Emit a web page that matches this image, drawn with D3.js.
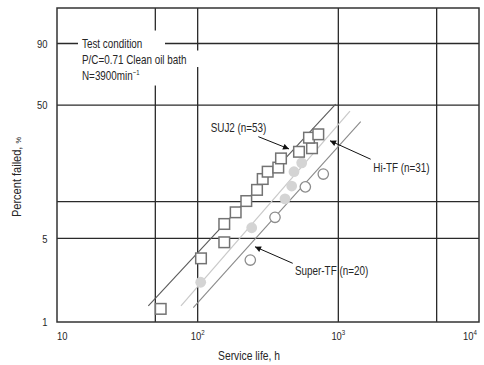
<!DOCTYPE html>
<html><head><meta charset="utf-8">
<script src="https://cdn.jsdelivr.net/npm/d3@7"></script>
<style>
html,body{margin:0;padding:0;background:#fff;}
svg text{font-family:"Liberation Sans",Arial,sans-serif;fill:#262626;}
</style></head>
<body><svg id="c" width="484" height="365"></svg>
<script>
// ---- data ----
const suj2Life = [54.6,105.6,154.6,154.6,186.3,221.7,264.2,290,314.6,374.3,391.2,525.3,649.9,618.6,720.4];
const suj2Pct  = [1.29,3.42,4.65,6.58,8.19,10.1,12.4,15.1,17.2,18.5,21.7,24.3,25.8,30.7,32.4];
const hiLife = [105.1,242.2,417.7,466.1,484,549];
const hiPct  = [2.16,6.13,10.5,13.3,17.2,20.1];
const superLife = [236.7,354.6,582.6,781.7];
const superPct  = [3.31,7.46,13.1,16.5];
// fitted lines: [life, percent] end points
const suj2Fit  = [[44.6,1.37],[957.7,50.7]];
const hiFit    = [[76.1,1.37],[1210,46.0]];
const superFit = [[93.1,1.32],[1442,39.4]];
const xGrid = [50,100,1000,5000];
const xTicks = [10,100,1000,10000];
const xTickLabels = [["10",""],["10","2"],["10","3"],["10","4"]];
const yGrid = [5,10,50,90];
const yTicks = [1,5,50,90];
const seriesLabels = ["SUJ2 (n=53)","Hi-TF (n=31)","Super-TF (n=20)"];
// label anchor [life, pct], arrow from [life,pct] to [life,pct]
const labelPos = [[123.8,35.9],[1773,18.6],[492,2.73]];
const arrowFrom = [[270,31.2],[1698,21.4],[474,3.11]];
const arrowTo = [[446,25.5],[872.5,29.2],[255.6,4.27]];
const condText = ["Test condition","P/C=0.71 Clean oil bath","N=3900min"];

// ---- scales ----
const W = p => Math.log(-Math.log(1 - p/100));
const x = d3.scaleLog().domain([10,10000]).range([57,479]);
const y = d3.scaleLinear().domain([W(1),W(99)]).range([322,8]);
const Y = p => y(W(p));

// condensed text helper: moves x/y into a transform and squeezes horizontally
function condense(sel, k, extra) {
  sel.each(function(){
    const t = d3.select(this);
    const tx = +t.attr("x") || 0, ty = +t.attr("y") || 0;
    t.attr("x",0).attr("y",0)
     .attr("transform",`translate(${tx},${ty})${extra||""} scale(${k},1)`);
  });
}

const svg = d3.select("#c");
svg.append("defs").append("marker").attr("id","ah")
  .attr("viewBox","0 0 10 10").attr("refX",10).attr("refY",5)
  .attr("markerWidth",7).attr("markerHeight",6).attr("markerUnits","userSpaceOnUse")
  .attr("orient","auto")
  .append("path").attr("d","M0,0L10,5L0,10z").attr("fill","#111");

const g = svg.append("g");
// grid
g.selectAll(".vg").data(xGrid).join("line")
  .attr("x1",d=>x(d)).attr("x2",d=>x(d)).attr("y1",y.range()[1]).attr("y2",y.range()[0])
  .attr("stroke","#2a2a2a").attr("stroke-width",1.3);
g.selectAll(".hg").data(yGrid).join("line")
  .attr("y1",d=>Y(d)).attr("y2",d=>Y(d)).attr("x1",x.range()[0]).attr("x2",x.range()[1])
  .attr("stroke","#2a2a2a").attr("stroke-width",1.3);
// frame
g.append("rect").attr("x",x.range()[0]).attr("y",y.range()[1])
  .attr("width",x.range()[1]-x.range()[0]).attr("height",y.range()[0]-y.range()[1])
  .attr("fill","none").attr("stroke","#333").attr("stroke-width",1.5);

// test condition box (white background cutting the grid)
const tcX = x.range()[0] + 21;
g.append("rect").attr("x",tcX).attr("y",Y(90)-13).attr("width",87).attr("height",55).attr("fill","#fff");
g.append("rect").attr("x",tcX).attr("y",Y(90)+7).attr("width",122).attr("height",16.5).attr("fill","#fff");
const tc = g.append("g").attr("font-size",12.5);
tc.append("text").attr("x",tcX+4).attr("y",Y(90)+4.3).text(condText[0]);
tc.append("text").attr("x",tcX+4).attr("y",Y(90)+20.3).text(condText[1]);
const t3 = tc.append("text").attr("x",tcX+4).attr("y",Y(90)+36).text(condText[2]);
t3.append("tspan").attr("dy",-5).attr("font-size",7.5).text("\u22121");
condense(tc.selectAll("text"),0.79);

// fit lines
const line = d3.line().x(d=>x(d[0])).y(d=>Y(d[1]));
g.append("path").attr("d",line(hiFit)).attr("stroke","#c9c9c9").attr("stroke-width",1.2).attr("fill","none");
g.append("path").attr("d",line(superFit)).attr("stroke","#8a8a8a").attr("stroke-width",1.1).attr("fill","none");
g.append("path").attr("d",line(suj2Fit)).attr("stroke","#5a5a5a").attr("stroke-width",1.1).attr("fill","none");

// markers
g.selectAll(".oc").data(superLife.map((d,i)=>[d,superPct[i]])).join("circle")
  .attr("cx",d=>x(d[0])).attr("cy",d=>Y(d[1])).attr("r",5.2)
  .attr("fill","#fff").attr("stroke","#8c8c8c").attr("stroke-width",1.3);
g.selectAll(".fc").data(hiLife.map((d,i)=>[d,hiPct[i]])).join("circle")
  .attr("cx",d=>x(d[0])).attr("cy",d=>Y(d[1])).attr("r",5.4)
  .attr("fill","#d4d4d4").attr("stroke","none");
g.selectAll(".sq").data(suj2Life.map((d,i)=>[d,suj2Pct[i]])).join("rect")
  .attr("x",d=>x(d[0])-5.3).attr("y",d=>Y(d[1])-5.3).attr("width",10.6).attr("height",10.6)
  .attr("fill","#fff").attr("stroke","#737373").attr("stroke-width",1.5);

// labels and arrows
seriesLabels.forEach((s,i)=>{
  const t = g.append("text").attr("x",x(labelPos[i][0])).attr("y",Y(labelPos[i][1])+4.6)
    .attr("font-size",12.5).text(s);
  condense(t,0.79);
  g.append("line").attr("x1",x(arrowFrom[i][0])).attr("y1",Y(arrowFrom[i][1]))
    .attr("x2",x(arrowTo[i][0])).attr("y2",Y(arrowTo[i][1]))
    .attr("stroke","#111").attr("stroke-width",1).attr("marker-end","url(#ah)");
});

// tick labels
const xt = g.selectAll(".xt").data(xTicks).join("text")
  .attr("x",(d,i)=> i===0 ? x(d) : (i===xTicks.length-1 ? x(d)-2 : x(d)))
  .attr("y",339.5).attr("font-size",11.5)
  .attr("text-anchor",(d,i)=> i===0 ? "start" : (i===xTicks.length-1 ? "end" : "middle"))
  .each(function(d,i){
    const t = d3.select(this);
    t.append("tspan").text(xTickLabels[i][0]);
    if (xTickLabels[i][1]) t.append("tspan").attr("dy",-4.5).attr("font-size",7.5).text(xTickLabels[i][1]);
  });
condense(xt,0.82);
const ytk = g.selectAll(".yt").data(yTicks).join("text")
  .attr("x",x.range()[0]-9.5).attr("y",d=>Y(d)+4.2).attr("font-size",11.5)
  .attr("text-anchor","end").text(d=>d);
condense(ytk,0.82);

// axis titles
const xtitle = g.append("text").attr("x",249).attr("y",360).attr("font-size",12).attr("text-anchor","middle").text("Service life, h");
condense(xtitle,0.86);
const yt = g.append("text").attr("x",21).attr("y",177)
  .attr("font-size",12).attr("text-anchor","middle");
yt.append("tspan").text("Percent failed, ");
yt.append("tspan").attr("font-size",8).text("%");
condense(yt,0.92," rotate(-90)");
</script></body></html>
